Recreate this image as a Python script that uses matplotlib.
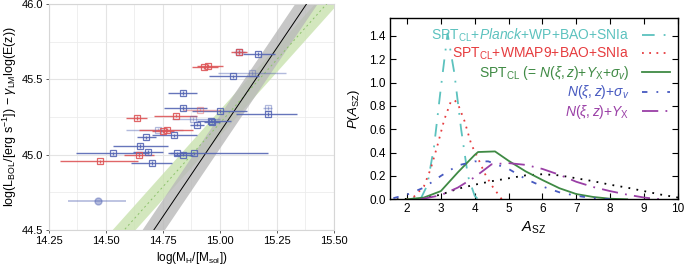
import numpy as np
import matplotlib
matplotlib.use("Agg")
import matplotlib.pyplot as plt
from matplotlib.ticker import MultipleLocator

plt.rcParams["font.family"] = ["Liberation Sans", "DejaVu Sans"]
plt.rcParams["mathtext.fontset"] = "custom"
plt.rcParams["mathtext.rm"] = "Liberation Sans"
plt.rcParams["mathtext.it"] = "Liberation Sans:italic"

# left panel: clusters (log mass, log luminosity, mass range, colour, faded)
blue_m = [15.085, 15.168, 15.139, 15.058, 14.84, 14.84, 15.0, 15.212, 15.21, 14.883, 14.96, 14.965,
          14.90, 14.73, 14.675, 14.80, 14.65, 14.53, 14.686, 14.81, 14.84, 14.886, 14.70]
blue_l = [45.68, 45.67, 45.544, 45.52, 45.41, 45.31, 45.29, 45.31, 45.27, 45.235, 45.226, 45.22,
          45.20, 45.166, 45.115, 45.128, 45.056, 45.009, 45.016, 45.009, 45.0, 45.009, 44.943]
blue_lo = [15.06, 15.10, 14.99, 14.95, 14.77, 14.756, 14.876, 15.19, 15.07, 14.79, 14.90, 14.93,
           14.87, 14.59, 14.635, 14.70, 14.53, 14.37, 14.62, 14.77, 14.80, 14.78, 14.61]
blue_hi = [15.11, 15.24, 15.29, 15.17, 14.90, 14.942, 15.12, 15.23, 15.34, 15.0, 15.05, 15.00,
           14.93, 14.84, 14.72, 14.90, 14.77, 14.69, 14.75, 14.88, 14.88, 15.21, 14.79]
blue_faded = [0, 0, 1, 0, 0, 0, 0, 1, 0, 1, 0, 0, 0, 1, 0, 0, 0, 0, 0, 0, 0, 0, 0]

red_m = [15.085, 14.93, 14.946, 14.914, 14.636, 14.807, 14.766, 14.748, 14.646, 14.474]
red_l = [45.68, 45.58, 45.59, 45.30, 45.245, 45.26, 45.164, 45.155, 44.996, 44.956]
red_lo = [15.05, 14.876, 14.90, 14.84, 14.59, 14.71, 14.645, 14.70, 14.58, 14.30]
red_hi = [15.12, 14.99, 15.015, 15.00, 14.68, 14.90, 14.88, 14.80, 14.71, 14.64]
red_faded = [0, 0, 0, 1, 0, 0, 0, 0, 0, 0]

# the one cluster drawn as a faded filled circle
circ_m, circ_l, circ_lo, circ_hi = 14.464, 44.695, 14.335, 14.59

# fits: y = icpt + slope * (x - 15)
black_fit = (45.15, 2.24, 0.11)
green_fit = (45.21, 1.69, 0.085)

# right panel: posteriors of A_SZ
cyan_x = [2.4, 2.6, 2.8, 3.0, 3.2, 3.4, 3.6, 3.8, 4.0, 4.1]
cyan_y = [0.0, 0.12, 0.45, 0.95, 1.42, 1.08, 0.6, 0.2, 0.03, 0.0]
red_x = [2.0, 2.2, 2.5, 2.7, 2.9, 3.1, 3.3, 3.4, 3.5, 3.7, 3.9, 4.1, 4.3, 4.5, 4.8]
red_y = [0.0, 0.02, 0.11, 0.26, 0.46, 0.68, 0.84, 0.85, 0.82, 0.67, 0.47, 0.35, 0.22, 0.12, 0.0]
green_x = [2.0, 2.5, 3.0, 3.5, 4.0, 4.1, 4.6, 5.0, 5.5, 6.0, 6.5, 7.0, 7.5, 8.0, 8.5]
green_y = [0.0, 0.015, 0.07, 0.23, 0.38, 0.405, 0.41, 0.33, 0.24, 0.165, 0.095, 0.045, 0.02, 0.005, 0.0]
blue_x = [1.6, 2.0, 2.5, 3.0, 3.5, 4.0, 4.4, 5.0, 5.5, 6.0, 6.5, 7.0, 7.5, 8.0]
blue_y = [0.01, 0.04, 0.10, 0.20, 0.29, 0.325, 0.325, 0.26, 0.175, 0.11, 0.06, 0.03, 0.01, 0.0]
purple_x = [2.4, 3.0, 3.5, 4.0, 4.5, 5.0, 5.5, 6.0, 6.5, 7.0, 7.5, 8.0, 8.5, 9.0, 9.5]
purple_y = [0.0, 0.035, 0.1, 0.19, 0.30, 0.31, 0.295, 0.26, 0.21, 0.15, 0.105, 0.07, 0.04, 0.015, 0.0]
black_x = [1.7, 2.5, 3.0, 3.5, 4.0, 4.5, 5.0, 5.5, 6.0, 6.5, 7.0, 7.5, 8.0, 8.5, 9.0, 9.5, 10.0]
black_y = [0.0, 0.01, 0.04, 0.09, 0.125, 0.155, 0.18, 0.205, 0.215, 0.205, 0.18, 0.155, 0.125, 0.1,
           0.07, 0.04, 0.015]

labels = [r"SPT$_{\mathrm{CL}}$+$Planck$+WP+BAO+SNIa",
          r"SPT$_{\mathrm{CL}}$+WMAP9+BAO+SNIa",
          r"SPT$_{\mathrm{CL}}$ (= $N(\xi,z)$+$Y_{\mathrm{X}}$+$\sigma_v$)",
          r"$N(\xi,z)$+$\sigma_v$",
          r"$N(\xi,z)$+$Y_{\mathrm{X}}$"]

C_BLUE = "#5566b4"
C_RED = "#dd5557"


def draw_clusters(ax, m, l, lo, hi, faded, color):
    for xi, yi, a, b, f in zip(m, l, lo, hi, faded):
        alpha = 0.45 if f else 0.9
        ax.errorbar(xi, yi, xerr=[[xi - a], [b - xi]], yerr=0.012, fmt="s", ms=4.5,
                    mfc="none", mec=color, color=color, lw=1.0, mew=0.9,
                    alpha=alpha, zorder=4)


fig = plt.figure(figsize=(6.85, 2.68), dpi=100)

# ---- left panel
ax1 = fig.add_axes([0.0715, 0.1418, 0.416, 0.843])
xx = np.linspace(14.25, 15.5, 100)
for (icpt, slope, hw), fill, line, ls in [(green_fit, "#c9e2ae", "#8cc26a", (0, (2, 3))),
                                          (black_fit, "#b9b9b9", "black", "-")]:
    yy = icpt + slope * (xx - 15.0)
    ax1.fill_between(xx, yy - hw, yy + hw, color=fill, alpha=0.8, lw=0, zorder=2)
    ax1.plot(xx, yy, color=line, lw=0.7, ls=ls, zorder=3)

draw_clusters(ax1, blue_m, blue_l, blue_lo, blue_hi, blue_faded, C_BLUE)
draw_clusters(ax1, red_m, red_l, red_lo, red_hi, red_faded, C_RED)
ax1.errorbar(circ_m, circ_l, xerr=[[circ_m - circ_lo], [circ_hi - circ_m]], fmt="o", ms=5,
             color=C_BLUE, alpha=0.45, lw=1.2, zorder=4)

ax1.set_xlim(14.25, 15.5)
ax1.set_ylim(44.5, 46.0)
ax1.set_xticks([14.25, 14.5, 14.75, 15.0, 15.25, 15.5])
ax1.set_xticklabels(["14.25", "14.50", "14.75", "15.00", "15.25", "15.50"])
ax1.set_yticks([44.5, 45.0, 45.5, 46.0])
ax1.xaxis.set_minor_locator(MultipleLocator(0.125))
ax1.yaxis.set_minor_locator(MultipleLocator(0.25))
ax1.grid(True, which="major", color="#e4e4e4", lw=0.8, zorder=0)
ax1.grid(True, which="minor", color="#ececec", lw=0.6, zorder=0)
ax1.set_axisbelow(True)
ax1.tick_params(which="major", length=2.5, width=0.6, color="#444444", labelsize=8, pad=1.5)
ax1.tick_params(which="minor", length=0)
for s in ax1.spines.values():
    s.set_color("#d6d6d6")
    s.set_linewidth(0.8)
ax1.set_xlabel(r"log(M$_{\mathrm{H}}$/[M$_{\mathrm{sol}}$])", fontsize=8.5, labelpad=3)
ax1.set_ylabel(r"log(L$_{\mathrm{BOL}}$/[erg s$^{-1}$]) $-$ $\gamma_{\mathrm{LM}}$log(E(z))",
               fontsize=9, labelpad=2)

# ---- right panel
ax2 = fig.add_axes([0.5693, 0.2563, 0.4205, 0.6754])
ax2.plot(black_x, black_y, color="black", lw=1.3, ls=(0, (1, 3.5)))
ax2.plot(cyan_x, cyan_y, color="#5cc2be", lw=1.3, ls=(0, (7, 5, 1, 5)), label=labels[0])
ax2.plot(red_x, red_y, color="#e63c3f", lw=1.3, ls=(0, (1, 3)), label=labels[1])
ax2.plot(green_x, green_y, color="#3f8a44", lw=1.3, ls="-", label=labels[2])
ax2.plot(blue_x, blue_y, color="#4759c0", lw=1.3, ls=(0, (3, 5, 1, 5)), label=labels[3])
ax2.plot(purple_x, purple_y, color="#9a3fa6", lw=1.3, ls=(0, (9, 4, 1, 4)), label=labels[4])

ax2.set_xlim(1.5, 10)
ax2.set_ylim(0, 1.55)
ax2.set_xticks(range(2, 11))
ax2.set_yticks([0, 0.2, 0.4, 0.6, 0.8, 1.0, 1.2, 1.4])
ax2.set_yticklabels(["0.0", "0.2", "0.4", "0.6", "0.8", "1.0", "1.2", "1.4"])
ax2.tick_params(direction="in", top=True, right=True, length=4, width=0.8, labelsize=8.5, pad=3)
for s in ax2.spines.values():
    s.set_linewidth(1.0)
ax2.set_xlabel(r"$A_{\mathrm{SZ}}$", fontsize=10.5, labelpad=3)
ax2.set_ylabel(r"$P(A_{\mathrm{SZ}})$", fontsize=9.5, labelpad=5)

leg = ax2.legend(loc="upper right", frameon=False, markerfirst=False, fontsize=10,
                 handlelength=2.0, handletextpad=0.9, labelspacing=0.12,
                 borderaxespad=0.2, labelcolor="linecolor")

fig.savefig("out.png", dpi=100)
